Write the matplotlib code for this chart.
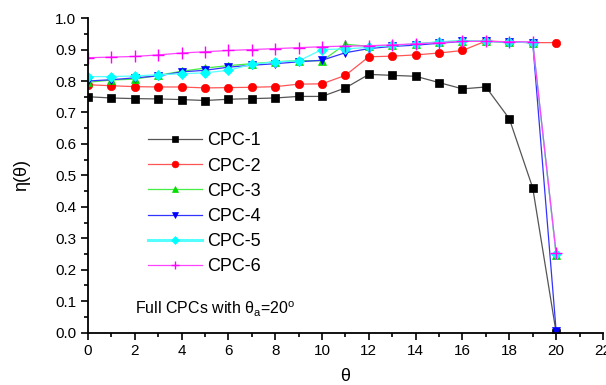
import matplotlib
matplotlib.use("Agg")
import matplotlib.pyplot as plt
from matplotlib.ticker import MultipleLocator

plt.rcParams['font.family'] = ['Liberation Sans', 'DejaVu Sans']

theta = list(range(21))

cpc1 = [0.750, 0.746, 0.744, 0.743, 0.741, 0.738, 0.742, 0.744, 0.746, 0.751, 0.751,
        0.778, 0.821, 0.818, 0.815, 0.795, 0.775, 0.781, 0.680, 0.460, 0.0]
cpc2 = [0.788, 0.785, 0.782, 0.781, 0.781, 0.778, 0.779, 0.780, 0.782, 0.790, 0.791,
        0.818, 0.877, 0.879, 0.883, 0.889, 0.897, 0.927, 0.924, 0.922, 0.922]
cpc3 = [0.796, 0.803, 0.806, 0.818, 0.831, 0.841, 0.849, 0.855, 0.861, 0.865, 0.864,
        0.917, 0.910, 0.913, 0.918, 0.924, 0.928, 0.926, 0.924, 0.922, 0.247]
cpc4 = [0.800, 0.804, 0.810, 0.816, 0.829, 0.834, 0.844, 0.850, 0.855, 0.861, 0.866,
        0.890, 0.903, 0.910, 0.914, 0.920, 0.926, 0.926, 0.924, 0.922, 0.005]
cpc5 = [0.814, 0.814, 0.816, 0.820, 0.823, 0.826, 0.834, 0.853, 0.861, 0.864, 0.900,
        0.902, 0.907, 0.913, 0.918, 0.925, 0.928, 0.926, 0.924, 0.922, 0.250]
cpc6 = [0.874, 0.876, 0.878, 0.883, 0.889, 0.893, 0.897, 0.900, 0.903, 0.906, 0.909,
        0.911, 0.912, 0.915, 0.918, 0.922, 0.926, 0.926, 0.925, 0.924, 0.252]

# name, values, line colour, marker colour, marker
series = [
    ("CPC-1", cpc1, "#555555", "black", "s"),
    ("CPC-2", cpc2, "#ff5555", "red", "o"),
    ("CPC-3", cpc3, "#44ee44", "#00dd00", "^"),
    ("CPC-4", cpc4, "#3333ff", "blue", "v"),
    ("CPC-5", cpc5, "#55ffff", "cyan", "D"),
    ("CPC-6", cpc6, "#ff44ff", "magenta", "+"),
]

fig = plt.figure(figsize=(6.06, 3.85), dpi=100)
ax = fig.add_axes([0.145, 0.136, 0.85, 0.817])

for name, vals, lc, mc, mk in series:
    ms = 6
    if mk == "+":
        ms = 8
    if mk == "D":
        ms = 5.5
    ax.plot(theta, vals, color=lc, lw=0.9, marker=mk, markersize=ms,
            markerfacecolor=mc, markeredgecolor=mc,
            markeredgewidth=1.0 if mk == "+" else 0.5, label=name)

ax.set_xlim(0, 22)
ax.set_ylim(0, 1.0)
ax.xaxis.set_major_locator(MultipleLocator(2))
ax.xaxis.set_minor_locator(MultipleLocator(1))
ax.yaxis.set_major_locator(MultipleLocator(0.1))
ax.yaxis.set_minor_locator(MultipleLocator(0.05))
ax.yaxis.set_major_formatter(plt.FormatStrFormatter('%.1f'))
ax.tick_params(which='major', direction='out', length=5, width=1.2, labelsize=11)
ax.tick_params(which='minor', direction='out', length=3, width=1.2)
for s in ['top', 'right']:
    ax.spines[s].set_visible(False)
for s in ['left', 'bottom']:
    ax.spines[s].set_linewidth(1.3)

ax.set_xlabel("θ", fontsize=13, labelpad=7)
ax.set_ylabel("η(θ)", fontsize=13, labelpad=18)

leg = ax.legend(loc='upper left', bbox_to_anchor=(0.085, 0.688), frameon=False,
                fontsize=13, handlelength=3.0, labelspacing=0.45, handletextpad=0.3,
                markerscale=0.8)
for h in leg.legend_handles:
    if h.get_label() == "CPC-5":
        h.set_linewidth(2.2)

ax.text(2.0, 0.058, r"Full CPCs with $\mathregular{\theta_a}$=20$\mathregular{^o}$",
        fontsize=11.5)

fig.savefig("out.png", dpi=100)
